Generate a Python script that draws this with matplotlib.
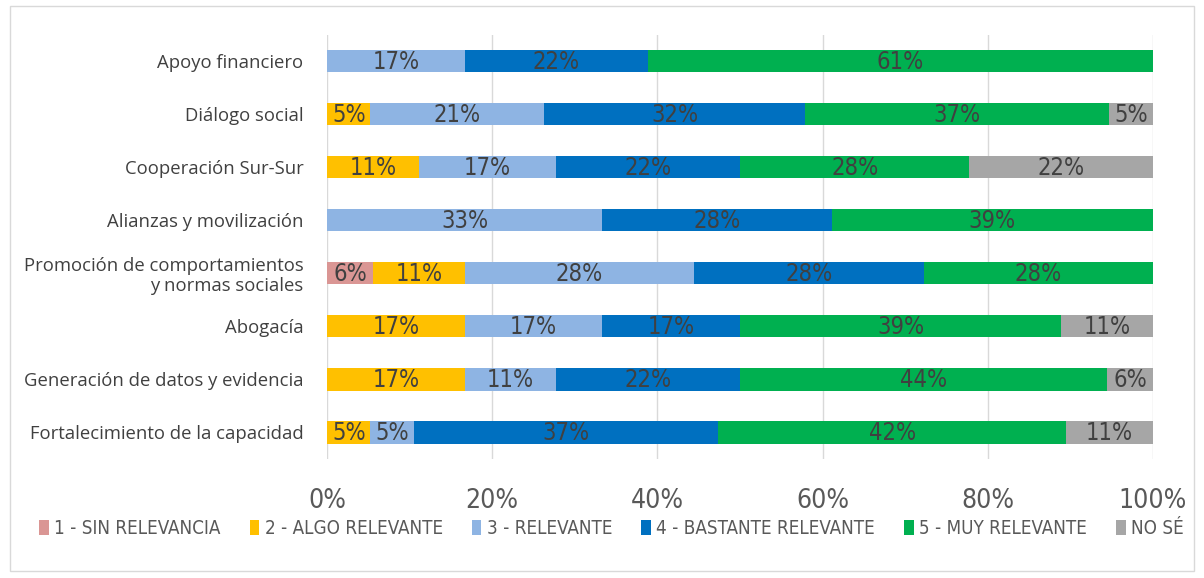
import matplotlib
matplotlib.use("Agg")
import matplotlib.pyplot as plt
from matplotlib.patches import Rectangle
from matplotlib.font_manager import FontProperties
import numpy as np

categories = ["Apoyo financiero", "Diálogo social", "Cooperación Sur-Sur",
              "Alianzas y movilización", "Promoción de comportamientos\ny normas sociales",
              "Abogacía", "Generación de datos y evidencia", "Fortalecimiento de la capacidad"]
series_names = ["1 - SIN RELEVANCIA", "2 - ALGO RELEVANTE", "3 - RELEVANTE",
                "4 - BASTANTE RELEVANTE", "5 - MUY RELEVANTE", "NO SÉ"]
colors = ["#DA9694", "#FFC000", "#8EB4E3", "#0070C0", "#00B050", "#A6A6A6"]

# percentages per category (rows) for each series
s1 = [0, 0, 0, 0, 5.56, 0, 0, 0]
s2 = [0, 5.26, 11.11, 0, 11.11, 16.67, 16.67, 5.26]
s3 = [16.67, 21.05, 16.67, 33.33, 27.78, 16.67, 11.11, 5.26]
s4 = [22.22, 31.58, 22.22, 27.78, 27.78, 16.67, 22.22, 36.84]
s5 = [61.11, 36.84, 27.78, 38.89, 27.78, 38.89, 44.44, 42.11]
s6 = [0, 5.26, 22.22, 0, 0, 11.11, 5.56, 10.53]
series = [s1, s2, s3, s4, s5, s6]

narrow = ["Liberation Sans Narrow", "DejaVu Sans"]

fig = plt.figure(figsize=(12.04, 5.78), dpi=100)
fig.patches.append(Rectangle((0.008, 0.012), 0.984, 0.978, transform=fig.transFigure,
                             fill=False, edgecolor="#D9D9D9", linewidth=1))
ax = fig.add_axes([0.2716, 0.206, 0.686, 0.734])

y = np.arange(len(categories))
left = np.zeros(len(categories))
for name, vals, c in zip(series_names, series, colors):
    vals = np.array(vals)
    ax.barh(y, vals, left=left, height=0.42, color=c, label=name, zorder=2)
    for yi, v, l in zip(y, vals, left):
        if v > 0:
            ax.text(l + v / 2, yi + 0.02, f"{round(v):.0f}%", ha="center", va="center",
                    fontproperties=FontProperties(family=narrow, size=17, stretch="condensed"),
                    color="#404040", zorder=3)
    left += vals

ax.set_xlim(0, 100)
ax.set_ylim(len(categories) - 0.5, -0.5)
ax.set_yticks(y)
ax.set_yticklabels(categories, fontsize=13.3, color="#404040", family=["Open Sans", "DejaVu Sans"],
                   linespacing=1.1)
ax.set_xticks(np.arange(0, 101, 20))
ax.set_xticklabels([f"{v}%" for v in range(0, 101, 20)],
                   fontproperties=FontProperties(family=narrow, size=19, stretch="condensed"),
                   color="#595959")
ax.tick_params(axis="y", length=0, pad=17)
ax.tick_params(axis="x", length=0, pad=21)
ax.grid(axis="x", color="#D9D9D9", linewidth=1, zorder=0)
for s in ax.spines.values():
    s.set_visible(False)

handles, labels = ax.get_legend_handles_labels()
fig.legend(handles, labels, loc="center", bbox_to_anchor=(0.508, 0.086), ncol=6, frameon=False,
           prop=FontProperties(family=narrow, size=13.5, stretch="condensed"),
           handlelength=0.5, handleheight=0.9,
           handletextpad=0.3, columnspacing=1.55, labelcolor="#595959")

fig.savefig("out.png", dpi=100)
